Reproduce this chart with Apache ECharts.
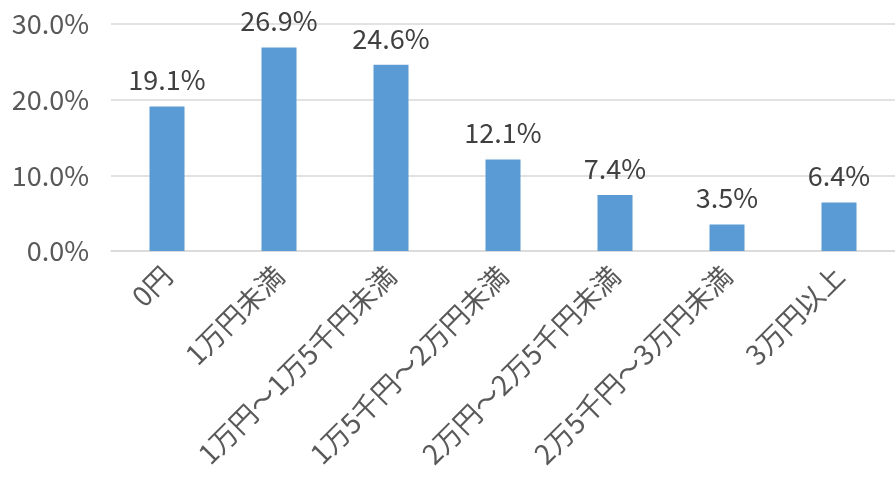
<!DOCTYPE html>
<html><head><meta charset="utf-8">
<script src="https://cdn.jsdelivr.net/npm/echarts@6/dist/echarts.min.js"></script>
<style>html,body{margin:0;padding:0;background:#fff}#c{width:895px;height:483px}</style>
</head><body><div id="c"></div>
<script>
const categories = ['0円','1万円未満','1万円～1万5千円未満','1万5千円～2万円未満','2万円～2万5千円未満','2万5千円～3万円未満','3万円以上'];
const values = [19.1, 26.9, 24.6, 12.1, 7.4, 3.5, 6.4];
const yTicks = [0, 10, 20, 30];
const FONT = "'Noto Sans CJK JP','Noto Sans',sans-serif";
const chart = echarts.init(document.getElementById('c'));
chart.setOption({
  animation: false,
  grid: {left: 111, right: -2, top: 24, bottom: 232},
  xAxis: {
    type: 'category', data: categories,
    axisLine: {lineStyle: {color: '#D9D9D9', width: 1.5}},
    axisTick: {show: false},
    axisLabel: {rotate: 45, interval: 0, margin: 20, color: '#595959', fontSize: 27.5, fontFamily: FONT}
  },
  yAxis: {
    type: 'value', min: yTicks[0], max: yTicks[yTicks.length-1], interval: 10,
    axisLine: {show: false}, axisTick: {show: false},
    splitLine: {lineStyle: {color: '#D9D9D9', width: 1.5}},
    axisLabel: {margin: 22, color: '#595959', fontSize: 27, fontFamily: FONT,
      formatter: v => v.toFixed(1) + '%'}
  },
  series: [{
    type: 'bar', data: values, barWidth: 35,
    itemStyle: {color: '#5B9BD5'},
    label: {show: true, position: 'top', distance: 13, color: '#404040', fontSize: 27, fontFamily: FONT,
      formatter: p => p.value.toFixed(1) + '%'}
  }]
});
</script></body></html>
